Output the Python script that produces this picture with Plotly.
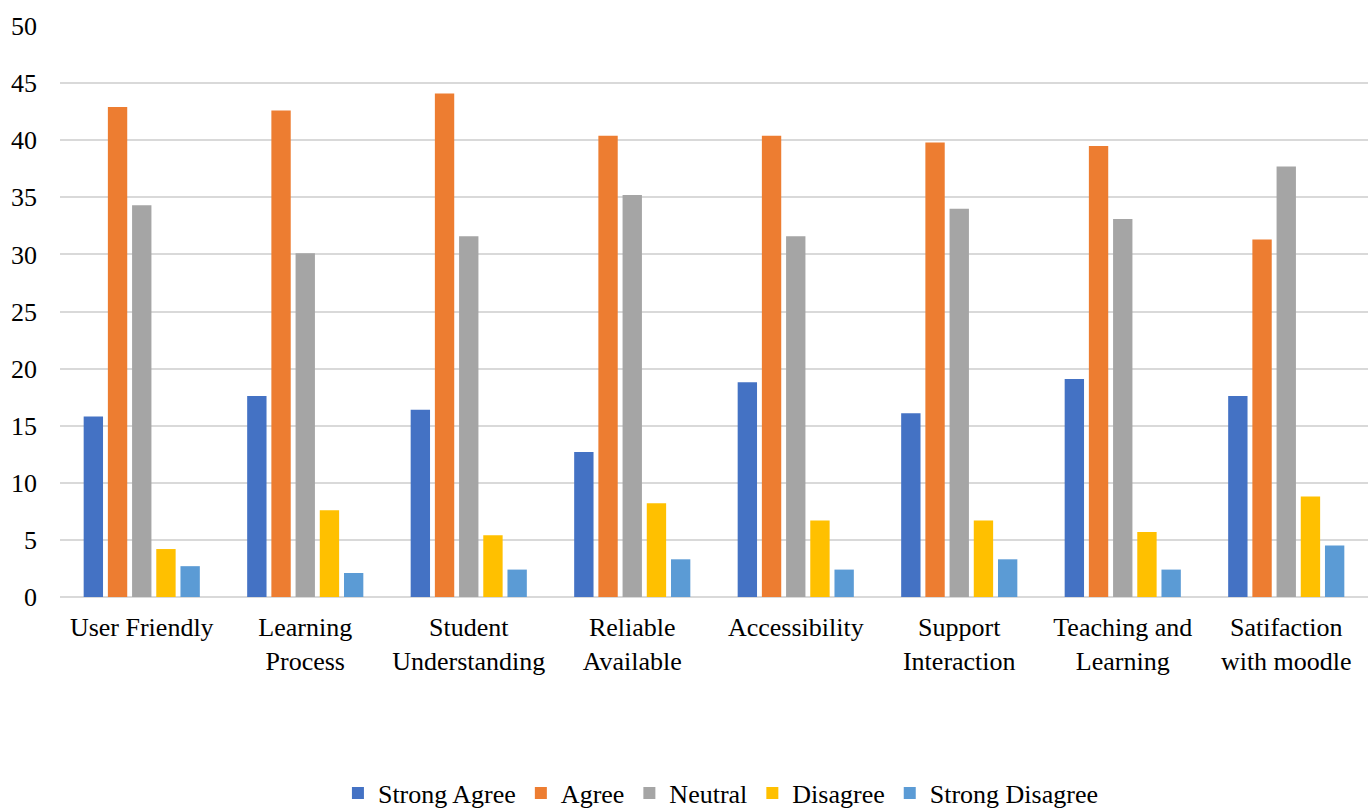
import plotly.graph_objects as go

categories = ["User Friendly", "Learning<br>Process", "Student<br>Understanding", "Reliable<br>Available",
              "Accessibility", "Support<br>Interaction", "Teaching and<br>Learning", "Satifaction<br>with moodle"]
strong_agree = [15.8, 17.6, 16.4, 12.7, 18.8, 16.1, 19.1, 17.6]
agree = [42.9, 42.6, 44.1, 40.4, 40.4, 39.8, 39.5, 31.3]
neutral = [34.3, 30.1, 31.6, 35.2, 31.6, 34.0, 33.1, 37.7]
disagree = [4.2, 7.6, 5.4, 8.2, 6.7, 6.7, 5.7, 8.8]
strong_disagree = [2.7, 2.1, 2.4, 3.3, 2.4, 3.3, 2.4, 4.5]

series = [
    ("Strong Agree", strong_agree, "#4472C4"),
    ("Agree", agree, "#ED7D31"),
    ("Neutral", neutral, "#A5A5A5"),
    ("Disagree", disagree, "#FFC000"),
    ("Strong Disagree", strong_disagree, "#5B9BD5"),
]

FONT = "Liberation Serif"

fig = go.Figure()
for name, vals, color in series:
    fig.add_trace(go.Bar(x=categories, y=vals, name=name, marker=dict(color=color, line=dict(width=0))))

fig.update_layout(
    width=1368, height=811,
    margin=dict(l=60, r=0, t=26, b=214, autoexpand=False),
    paper_bgcolor="white", plot_bgcolor="white",
    barmode="group", bargap=0.26, bargroupgap=0.2,
    font=dict(family=FONT, size=26, color="black"),
    showlegend=True,
    legend=dict(orientation="h", x=0.527, xanchor="center", xref="container",
                y=0.022, yanchor="middle", yref="container",
                font=dict(family=FONT, size=26, color="black"), traceorder="normal", itemwidth=30),
)
fig.update_xaxes(showgrid=False, showline=False, ticks="", automargin=False,
                 tickfont=dict(family=FONT, size=26, color="black"), ticklabelstandoff=12)
fig.update_yaxes(range=[0, 50], dtick=5, showgrid=True, gridcolor="#D9D9D9", gridwidth=1.5,
                 zeroline=True, zerolinecolor="#D9D9D9", zerolinewidth=1.5, automargin=False,
                 showline=False, ticks="", tickfont=dict(family=FONT, size=26, color="black"),
                 ticklabelstandoff=22)

fig.write_html("out.html")
